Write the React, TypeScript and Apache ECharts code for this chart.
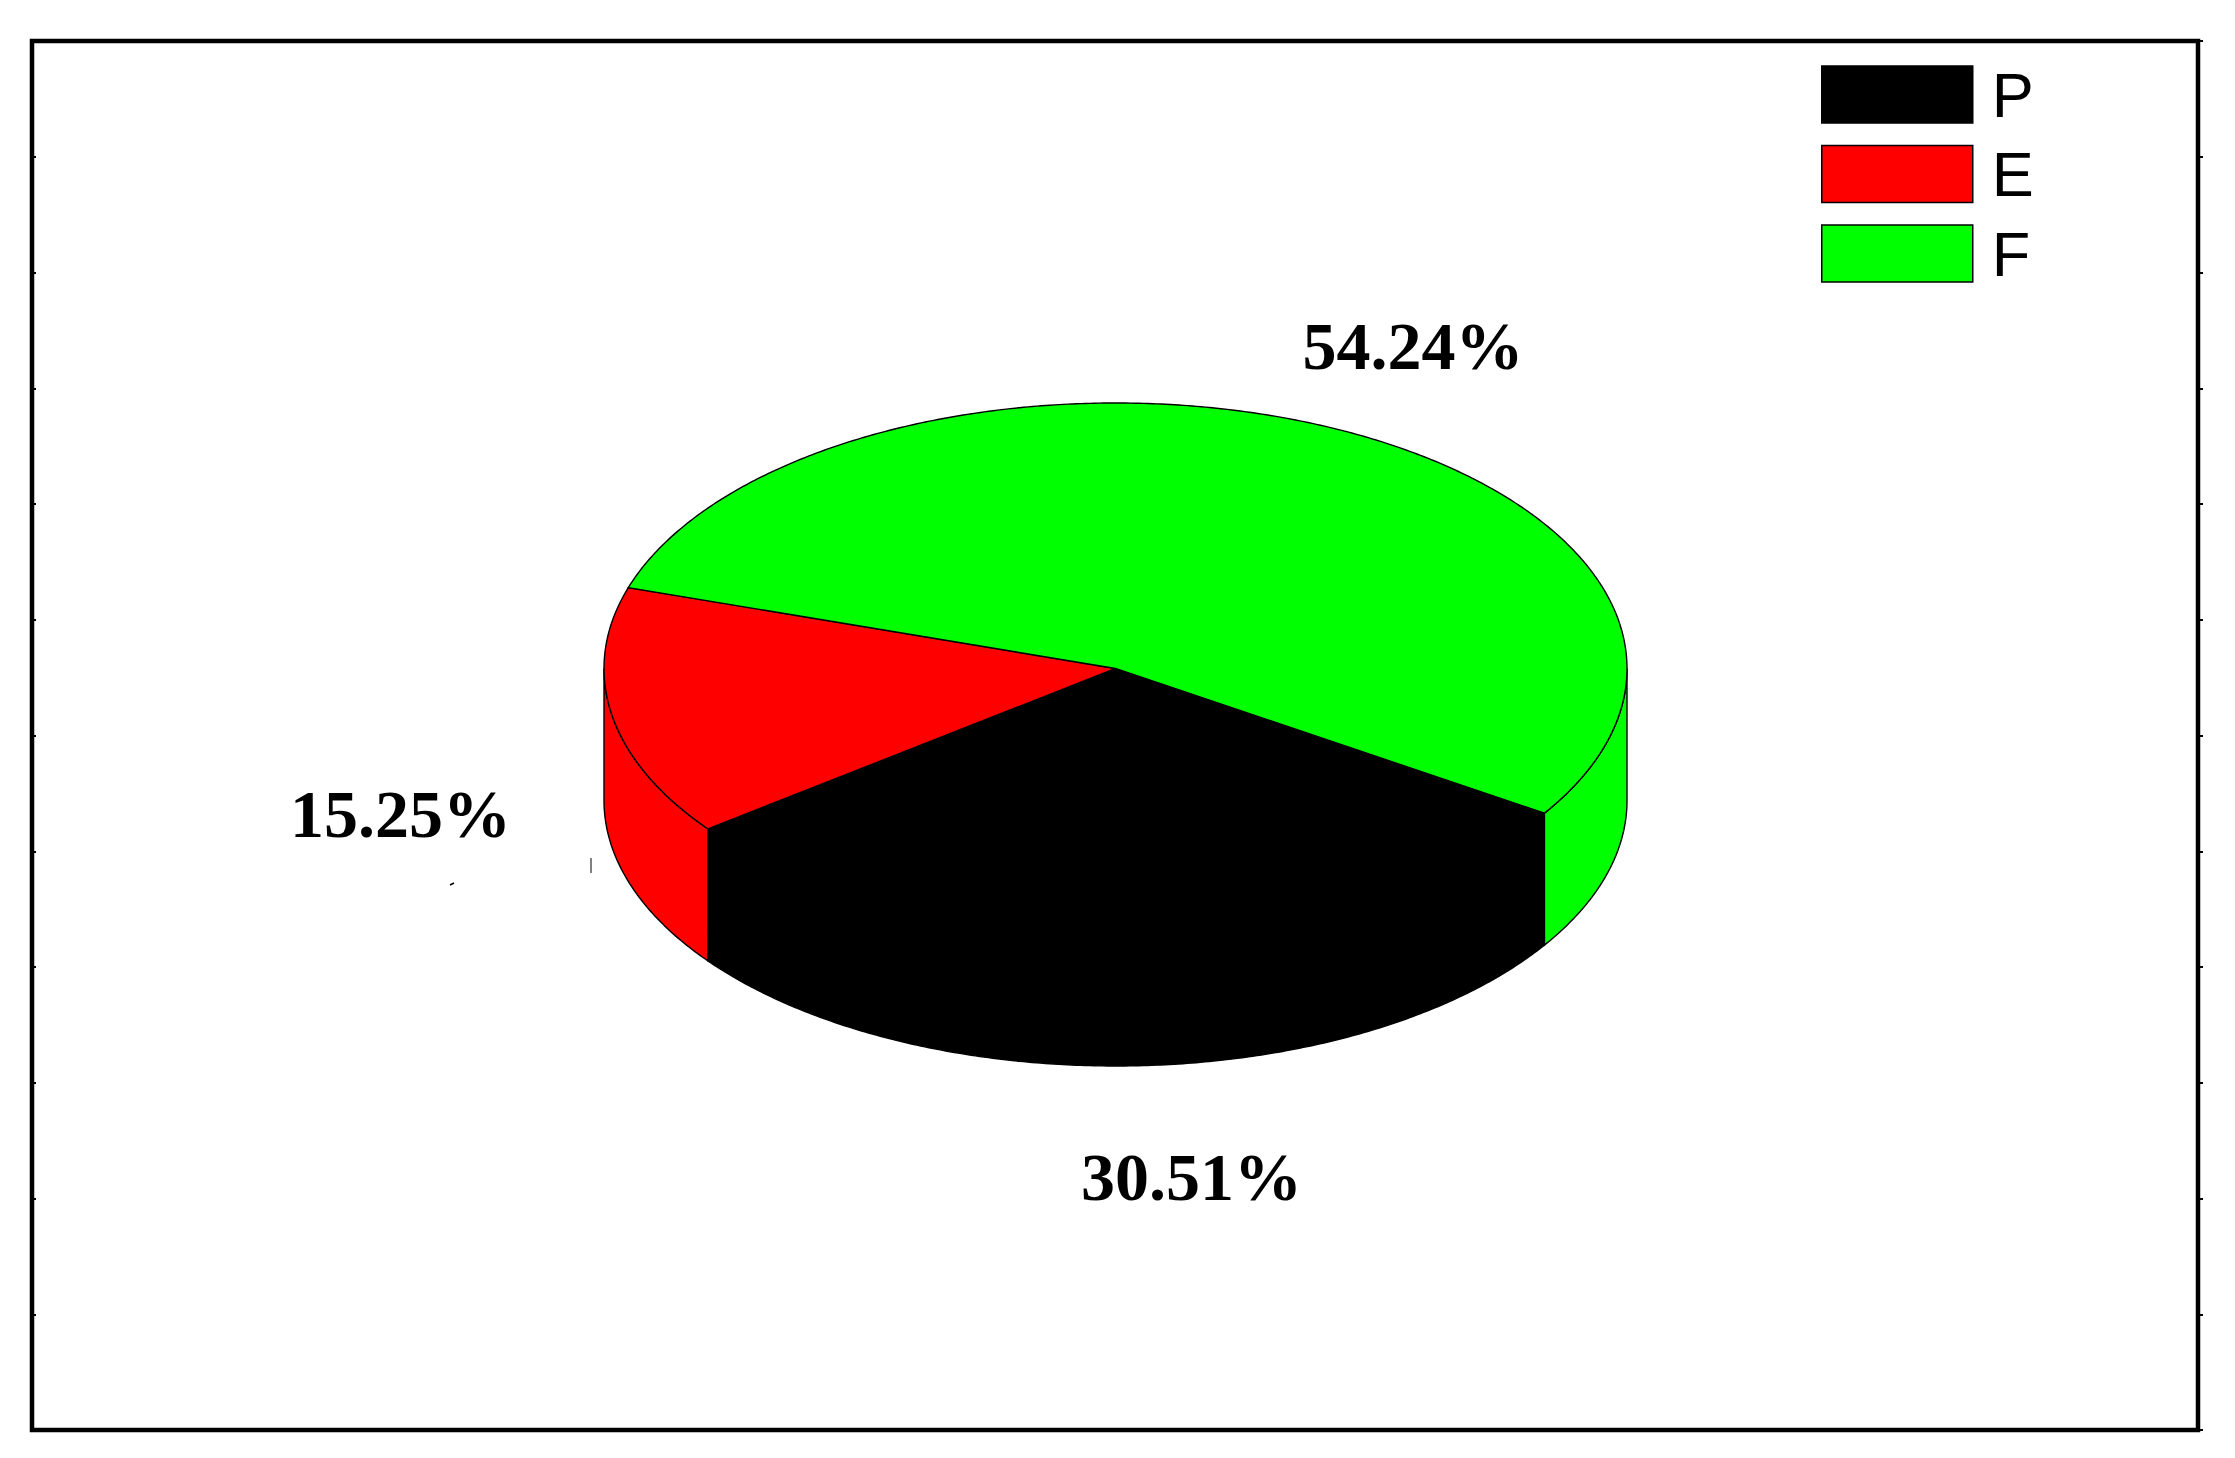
import React, { useEffect, useRef } from "react";
import * as echarts from "echarts";

const categories = ["P", "E", "F"];
const shares = [30.51, 15.25, 54.24];
const colors = ["#000000", "#ff0000", "#00ff00"];
const labelAnchors = [
  [1191.5, 1177],
  [400.5, 814],
  [1413, 346],
];

const W = 2235;
const H = 1458;
const CX = 1115.5;
const CY = 668.5;
const RX = 511.5;
const RY = 265.5;
const DEPTH = 132;
const START_DEG = 33;

const total = shares.reduce((a, b) => a + b, 0);
const starts: number[] = [];
shares.reduce((acc, v, i) => {
  starts[i] = acc;
  return acc + (v / total) * 360;
}, START_DEG);

const pt = (deg: number, dy = 0): number[] => {
  const r = (deg * Math.PI) / 180;
  return [CX + RX * Math.cos(r), CY + RY * Math.sin(r) + dy];
};

const arc = (a: number, b: number, dy = 0): number[][] => {
  const out: number[][] = [];
  const n = Math.max(2, Math.ceil(Math.abs(b - a) * 2));
  for (let i = 0; i <= n; i++) out.push(pt(a + ((b - a) * i) / n, dy));
  return out;
};

// Portions of a slice that face the viewer (screen angle 0..180, modulo 360)
const visibleRanges = (a: number, b: number): number[][] => {
  const res: number[][] = [];
  for (const k of [0, 360]) {
    const lo = Math.max(a, k);
    const hi = Math.min(b, k + 180);
    if (hi > lo) res.push([lo, hi]);
  }
  return res;
};

const makeSeries = (i: number) => ({
  type: "custom",
  name: categories[i],
  coordinateSystem: "none",
  silent: true,
  itemStyle: { color: colors[i] },
  data: [[shares[i]]],
  renderItem: (_params: any, api: any) => {
    const value = api.value(0);
    const a = starts[i];
    const b = a + (value / total) * 360;
    const style = { fill: colors[i], stroke: "#000", lineWidth: 1.4 };
    const sides = visibleRanges(a, b).map((r) => ({
      type: "polygon",
      shape: { points: [...arc(r[0], r[1]), ...arc(r[1], r[0], DEPTH)] },
      style,
    }));
    return {
      type: "group",
      children: [
        ...sides,
        {
          type: "polygon",
          shape: { points: [[CX, CY], ...arc(a, b)] },
          style,
        },
        {
          type: "text",
          x: labelAnchors[i][0],
          y: labelAnchors[i][1],
          style: {
            text: `${value.toFixed(2)}%`,
            fill: "#000",
            font: 'bold 68px "Liberation Serif"',
            textAlign: "center",
            textVerticalAlign: "middle",
          },
        },
      ],
    };
  },
});

export default function App() {
  const ref = useRef<HTMLDivElement>(null);
  useEffect(() => {
    document.body.style.margin = "0";
    document.body.style.background = "#fff";
    const chart = echarts.init(ref.current!, undefined, { renderer: "svg" });
    chart.setOption({
      animation: false,
      backgroundColor: "#fff",
      grid: {
        show: true,
        left: 32,
        top: 41,
        width: 2166,
        height: 1389,
        borderColor: "#000",
        borderWidth: 4.5,
        backgroundColor: "#fff",
      },
      xAxis: { type: "value", min: 0, max: 1, show: false },
      yAxis: [
        {
          type: "value",
          position: "left",
          min: 0,
          max: 12,
          interval: 1,
          axisLine: { show: false },
          axisLabel: { show: false },
          splitLine: { show: false },
          axisTick: { show: true, inside: true, length: 4, lineStyle: { color: "#000", width: 2 } },
        },
        {
          type: "value",
          position: "right",
          min: 0,
          max: 12,
          interval: 1,
          axisLine: { show: false },
          axisLabel: { show: false },
          splitLine: { show: false },
          axisTick: { show: true, inside: false, length: 5, lineStyle: { color: "#000", width: 2 } },
        },
      ],
      legend: {
        show: true,
        orient: "vertical",
        left: 1821,
        top: 63,
        padding: 0,
        itemWidth: 151,
        itemHeight: 57,
        itemGap: 16.5,
        icon: "rect",
        data: categories,
        selectedMode: false,
        itemStyle: { borderColor: "#000", borderWidth: 1.5 },
        textStyle: {
          color: "#000",
          fontFamily: "Liberation Sans",
          fontSize: 63,
          lineHeight: 57,
          padding: [0, 0, 0, 14],
        },
      },
      graphic: [
        { type: "line", shape: { x1: 450, y1: 885, x2: 454, y2: 883 }, style: { stroke: "#000", lineWidth: 1.5 } },
        { type: "line", shape: { x1: 591, y1: 858, x2: 591, y2: 873 }, style: { stroke: "#000", lineWidth: 1 } },
      ],
      series: categories.map((_, i) => makeSeries(i)),
    });
    return () => chart.dispose();
  }, []);
  return <div ref={ref} style={{ width: W, height: H }} />;
}
